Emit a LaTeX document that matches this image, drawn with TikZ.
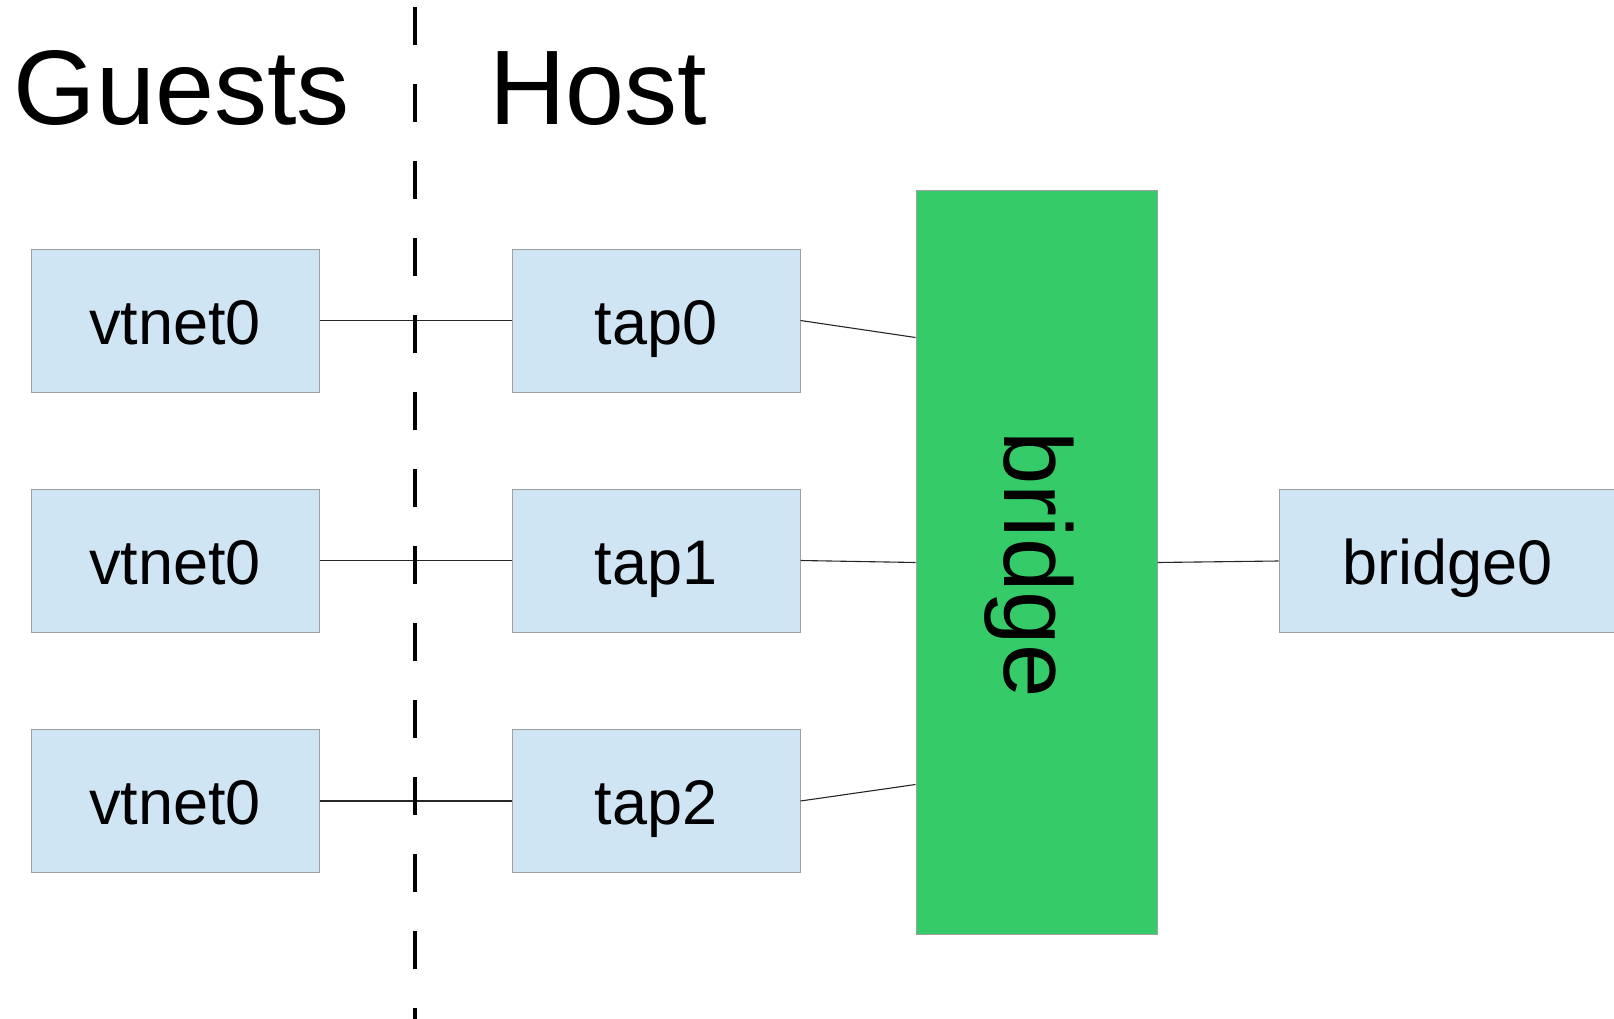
\documentclass[tikz,border=0pt]{standalone}
\usepackage{fontspec}
\setmainfont{Liberation Sans}
\usetikzlibrary{calc}
\definecolor{boxblue}{RGB}{207,229,243}
\definecolor{bridgegreen}{RGB}{53,203,105}
\definecolor{boxline}{RGB}{160,160,160}
\begin{document}
\begin{tikzpicture}[x=1pt,y=-1pt,
  iface/.style={draw=boxline, fill=boxblue, line width=1pt, minimum width=288pt, minimum height=143pt, inner sep=0pt, text height=47pt, text depth=0pt, font=\fontsize{63}{63}\selectfont},
  link/.style={line width=1.1pt, draw=black!85},
  titletext/.style={anchor=base west, inner sep=0pt, font=\fontsize{106}{106}\selectfont},
  divider/.style={line width=3.5pt, dash pattern=on 38pt off 39pt}]
\useasboundingbox (0,0) rectangle (1614,1019);
\clip (0,0) rectangle (1614,1019);

\node[titletext] (guests) at (13.5,125) {Guests};
\node[titletext] (host) at (489,125) {Host};

\coordinate (dtop) at (415,7);
\coordinate (dbot) at (415,1019);

\node[iface] (g0) at (175,320.5) {vtnet0};
\node[iface] (g1) at (175,560.5) {vtnet0};
\node[iface] (g2) at (175,801) {vtnet0};

\node[iface] (t0) at (656,320.5) {tap0};
\node[iface] (t1) at (656,560.5) {tap1};
\node[iface] (t2) at (656,801) {tap2};

\node[draw=boxline, fill=bridgegreen, line width=1pt, minimum width=241pt, minimum height=743pt, inner sep=0pt] (bridge) at (1036.5,562.5) {};
\node[rotate=-90, inner sep=0pt, font=\fontsize{96}{96}\selectfont] (blabel) at (1029,565) {bridge};

\node[iface, minimum width=337pt] (b0) at (1447.5,561) {bridge0};

\coordinate (bin0) at ($(bridge.west)+(0,-225)$);
\coordinate (bin1) at ($(bridge.west)+(0,0)$);
\coordinate (bin2) at ($(bridge.west)+(0,222)$);

\draw[link] (g0.east) -- (t0.west);
\draw[link] (g1.east) -- (t1.west);
\draw[link] (g2.east) -- (t2.west);
\draw[link] (t0.east) -- (bin0);
\draw[link] (t1.east) -- (bin1);
\draw[link] (t2.east) -- (bin2);
\draw[link] (bridge.east) -- (b0.west);

\draw[divider] (dtop) -- (dbot);
\end{tikzpicture}
\end{document}
